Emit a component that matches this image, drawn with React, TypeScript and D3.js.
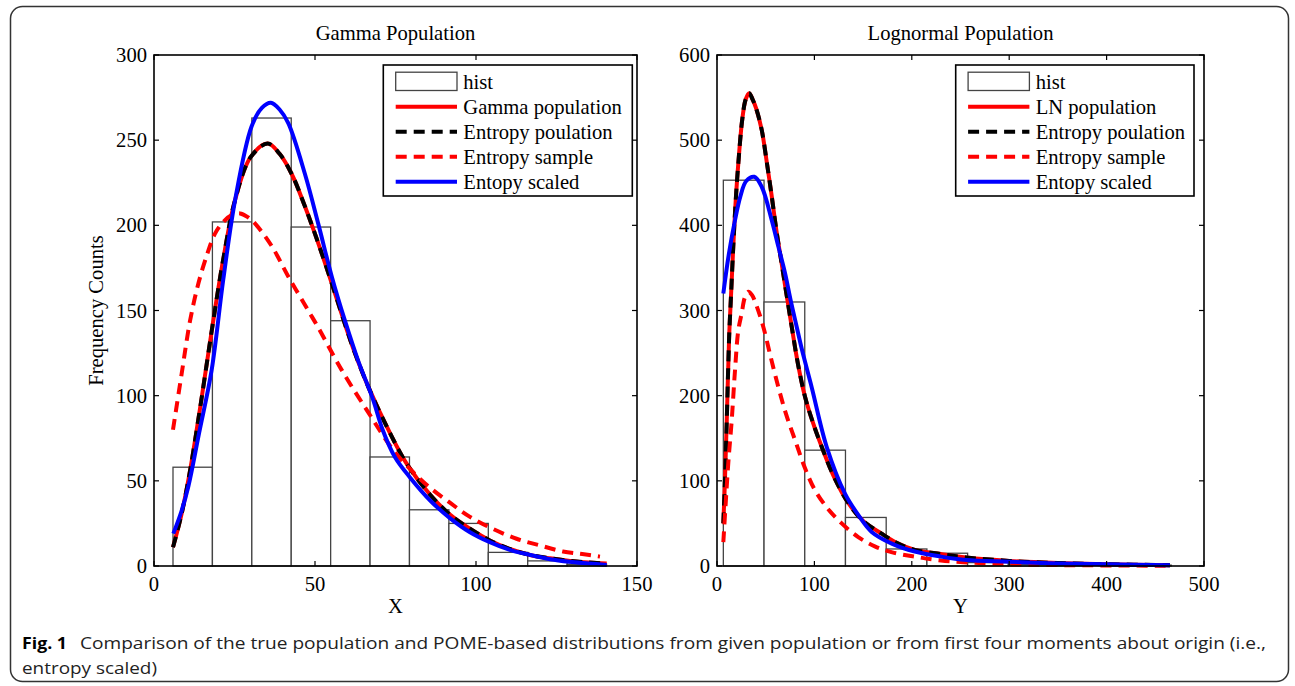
import * as d3 from "d3";
import React from "react";

// ---- Gamma panel data ----
const gammaEdges = [5.9, 18.14, 30.38, 42.62, 54.86, 67.1, 79.34, 91.58, 103.82, 116.06, 128.3, 140.54];
const gammaCounts = [58, 202, 263, 199, 144, 64, 33, 25, 8, 3, 1];

const gammaPopX = [5.9, 8.5, 11.2, 14.5, 18, 21.5, 25.2, 30, 35.3, 39, 42.8, 46.5, 50, 55.2, 59.3, 62.4, 66.6, 73.3, 78.5, 85.7, 92, 98, 104.3, 110.5, 116.8, 123, 129.2, 135, 140.6];
const gammaPopY = [11, 30, 56, 95, 139, 180, 215, 240, 248, 242, 230, 213, 195, 166, 142, 125, 105, 78, 60, 42, 30, 22, 15, 10, 6.5, 4.5, 3, 2, 1.5];

const gammaSampleX = [5.9, 8.6, 11.2, 13.8, 16.5, 18.9, 21.5, 24.1, 26.7, 29, 31.4, 36.5, 41.7, 47.9, 51, 58.3, 66.6, 74.3, 80, 85.7, 92, 98, 105, 112.6, 120, 127, 133, 138.5];
const gammaSampleY = [80, 113, 144, 166, 183, 195, 202, 206, 207, 205, 201, 188, 170, 150, 140, 115, 90, 68, 56, 46, 37, 29, 22, 16, 12, 8.5, 7, 5.5];

const gammaScaledX = [6, 8.5, 10.7, 14, 17.9, 21.5, 25.2, 30.3, 33.5, 36.3, 39, 41.7, 46.9, 51, 55.2, 59.3, 63.5, 67.8, 71, 74.8, 79.5, 86, 92, 98, 104.3, 110.5, 116.8, 123, 129, 135, 140.6];
const gammaScaledY = [19, 32, 47, 78, 115, 168, 215, 258, 269, 272, 268, 260, 230, 201, 170, 144, 120, 99, 80, 64, 52, 38, 28, 20, 14, 9.5, 6.5, 4, 2.5, 1.5, 0.6];

// ---- Lognormal panel data ----
const lnEdges = [6.5, 48.3, 90.1, 131.9, 173.7, 215.5, 257.3, 299.1, 340.9, 382.7, 424.5, 466.3];
const lnCounts = [453, 310, 136, 57, 20, 15, 4, 2, 1, 0, 1];

const lnPopX = [6.5, 8, 10, 12.5, 14.5, 16.7, 19, 21.9, 26, 29.5, 33, 36.5, 40, 45.9, 51, 56.2, 61, 66.4, 71.5, 76.7, 83, 90.3, 98, 107.5, 120, 134.8, 150, 169, 185, 203, 230, 256, 300, 350, 400, 465];
const lnPopY = [50, 95, 170, 270, 320, 375, 425, 473, 525, 548, 555, 548, 538, 512, 475, 434, 394, 355, 318, 281, 238, 199, 170, 140, 105, 74, 53, 38, 27, 19, 14, 10, 6, 3.5, 2, 1];

const lnSampleX = [6.5, 9, 11.6, 15.1, 18.5, 21.9, 25.4, 28.5, 32.2, 36, 40.8, 47.5, 55, 63, 71, 80.1, 90, 100.6, 114, 128, 145, 162, 180, 203, 230, 273, 320, 380, 465];
const lnSampleY = [28, 75, 121, 171, 230, 277, 297, 315, 322, 318, 305, 281, 246, 210, 178, 148, 116, 89, 67, 50, 34, 23, 16, 11, 6.5, 3.2, 1.5, 0.8, 0.3];

const lnScaledX = [6.5, 12, 18.5, 24, 30, 38.3, 46, 56.2, 63, 69.8, 76, 81.8, 87, 97.2, 112.6, 131.4, 145, 158.8, 180, 203, 230, 256, 300, 350, 400, 465];
const lnScaledY = [320, 365, 406, 434, 452, 457, 445, 406, 375, 344, 310, 281, 255, 210, 140, 85, 60, 40, 26, 17, 11, 7, 5, 3, 2, 1];

const gammaXTicks = [0, 50, 100, 150];
const gammaYTicks = [0, 50, 100, 150, 200, 250, 300];
const lnXTicks = [0, 100, 200, 300, 400, 500];
const lnYTicks = [0, 100, 200, 300, 400, 500, 600];

const legendGamma = ["hist", "Gamma population", "Entropy poulation", "Entropy sample", "Entopy scaled"];
const legendLN = ["hist", "LN population", "Entropy poulation", "Entropy sample", "Entopy scaled"];

const SERIF = "'Liberation Serif', 'Times New Roman', serif";
const FS = 20.6;

type PanelProps = {
  left: number;
  right: number;
  top: number;
  bottom: number;
  xDomain: [number, number];
  yDomain: [number, number];
  xTicks: number[];
  yTicks: number[];
  title: string;
  xLabel: string;
  yLabel?: string;
  edges: number[];
  counts: number[];
  popX: number[];
  popY: number[];
  sampX: number[];
  sampY: number[];
  scaledX: number[];
  scaledY: number[];
  legend: string[];
  legendX: number;
  legendW: number;
};

function Panel(p: PanelProps) {
  const x = d3.scaleLinear().domain(p.xDomain).range([p.left, p.right]);
  const y = d3.scaleLinear().domain(p.yDomain).range([p.bottom, p.top]);
  const path = (xs: number[], ys: number[]) =>
    d3
      .line<number>()
      .x((_, i) => x(xs[i]))
      .y((d) => y(d))
      .curve(d3.curveCatmullRom.alpha(0.5))(ys) || "";

  const tick = 5;
  const legTop = 65;
  const legH = 131;
  const rows = p.legend.map((_, i) => legTop + 16.7 + 25 * i);

  return (
    <g>
      <text x={(p.left + p.right) / 2} y={40} textAnchor="middle" fontSize={FS} fontFamily={SERIF}>
        {p.title}
      </text>

      {/* histogram */}
      {p.counts.map((c, i) =>
        c > 0 ? (
          <rect
            key={i}
            x={x(p.edges[i])}
            y={y(c)}
            width={x(p.edges[i + 1]) - x(p.edges[i])}
            height={y(0) - y(c)}
            fill="#fff"
            stroke="#444"
            strokeWidth={1.3}
          />
        ) : null
      )}

      {/* curves */}
      <path d={path(p.popX, p.popY)} fill="none" stroke="#ff0000" strokeWidth={4} />
      <path d={path(p.popX, p.popY)} fill="none" stroke="#000" strokeWidth={4} strokeDasharray="11,7" />
      <path d={path(p.sampX, p.sampY)} fill="none" stroke="#ff0000" strokeWidth={4} strokeDasharray="11,7" />
      <path d={path(p.scaledX, p.scaledY)} fill="none" stroke="#0000ff" strokeWidth={4} />

      {/* axes box */}
      <rect x={p.left} y={p.top} width={p.right - p.left} height={p.bottom - p.top} fill="none" stroke="#000" strokeWidth={1.6} />
      {p.xTicks.map((t) => (
        <g key={"x" + t}>
          <line x1={x(t)} x2={x(t)} y1={p.bottom} y2={p.bottom - tick} stroke="#000" strokeWidth={1.2} />
          <line x1={x(t)} x2={x(t)} y1={p.top} y2={p.top + tick} stroke="#000" strokeWidth={1.2} />
          <text x={x(t)} y={p.bottom + 25} textAnchor="middle" fontSize={FS} fontFamily={SERIF}>
            {t}
          </text>
        </g>
      ))}
      {p.yTicks.map((t) => (
        <g key={"y" + t}>
          <line x1={p.left} x2={p.left + tick} y1={y(t)} y2={y(t)} stroke="#000" strokeWidth={1.2} />
          <line x1={p.right} x2={p.right - tick} y1={y(t)} y2={y(t)} stroke="#000" strokeWidth={1.2} />
          <text x={p.left - 7} y={y(t) + 7} textAnchor="end" fontSize={FS} fontFamily={SERIF}>
            {t}
          </text>
        </g>
      ))}
      <text x={(p.left + p.right) / 2} y={p.bottom + 47} textAnchor="middle" fontSize={FS} fontFamily={SERIF}>
        {p.xLabel}
      </text>
      {p.yLabel && (
        <text
          transform={`translate(${p.left - 51},${(p.top + p.bottom) / 2}) rotate(-90)`}
          textAnchor="middle"
          fontSize={FS}
          fontFamily={SERIF}
        >
          {p.yLabel}
        </text>
      )}

      {/* legend */}
      <rect x={p.legendX} y={legTop} width={p.legendW} height={legH} fill="#fff" stroke="#000" strokeWidth={1.6} />
      <rect x={p.legendX + 12.4} y={rows[0] - 9.5} width={61.3} height={18.3} fill="#fff" stroke="#444" strokeWidth={1.3} />
      <line x1={p.legendX + 12.4} x2={p.legendX + 73.7} y1={rows[1]} y2={rows[1]} stroke="#ff0000" strokeWidth={4} />
      <line x1={p.legendX + 12.4} x2={p.legendX + 73.7} y1={rows[2]} y2={rows[2]} stroke="#000" strokeWidth={4} strokeDasharray="11,7" />
      <line x1={p.legendX + 12.4} x2={p.legendX + 73.7} y1={rows[3]} y2={rows[3]} stroke="#ff0000" strokeWidth={4} strokeDasharray="11,7" />
      <line x1={p.legendX + 12.4} x2={p.legendX + 73.7} y1={rows[4]} y2={rows[4]} stroke="#0000ff" strokeWidth={4} />
      {p.legend.map((l, i) => (
        <text key={l} x={p.legendX + 80} y={rows[i] + 7} fontSize={FS} fontFamily={SERIF}>
          {l}
        </text>
      ))}
    </g>
  );
}

export default function App() {
  const capFont = "'Liberation Sans Narrow', 'Open Sans', 'Noto Sans', sans-serif";
  return (
    <svg width={1295} height={686} style={{ position: "absolute", left: 0, top: 0, background: "#fff" }}>
      <rect x={10.5} y={6.5} width={1278} height={675} rx={12} fill="#fff" stroke="#333" strokeWidth={1.5} />
      <Panel
        left={154}
        right={637}
        top={55}
        bottom={566}
        xDomain={[0, 150]}
        yDomain={[0, 300]}
        xTicks={gammaXTicks}
        yTicks={gammaYTicks}
        title="Gamma Population"
        xLabel="X"
        yLabel="Frequency Counts"
        edges={gammaEdges}
        counts={gammaCounts}
        popX={gammaPopX}
        popY={gammaPopY}
        sampX={gammaSampleX}
        sampY={gammaSampleY}
        scaledX={gammaScaledX}
        scaledY={gammaScaledY}
        legend={legendGamma}
        legendX={383.3}
        legendW={249}
      />
      <Panel
        left={717}
        right={1204}
        top={55}
        bottom={566}
        xDomain={[0, 500]}
        yDomain={[0, 600]}
        xTicks={lnXTicks}
        yTicks={lnYTicks}
        title="Lognormal Population"
        xLabel="Y"
        edges={lnEdges}
        counts={lnCounts}
        popX={lnPopX}
        popY={lnPopY}
        sampX={lnSampleX}
        sampY={lnSampleY}
        scaledX={lnScaledX}
        scaledY={lnScaledY}
        legend={legendLN}
        legendX={955.7}
        legendW={238.3}
      />
      <text x={22} y={649} fontSize={16.5} fontFamily={capFont} fontWeight="bold" textLength={45} lengthAdjust="spacingAndGlyphs">
        Fig. 1
      </text>
      <text x={80} y={649} fontSize={16.5} fontFamily={capFont} fill="#222" textLength={1186} lengthAdjust="spacingAndGlyphs">
        Comparison of the true population and POME-based distributions from given population or from first four moments about origin (i.e.,
      </text>
      <text x={22} y={674} fontSize={16.5} fontFamily={capFont} fill="#222" textLength={135} lengthAdjust="spacingAndGlyphs">
        entropy scaled)
      </text>
    </svg>
  );
}
